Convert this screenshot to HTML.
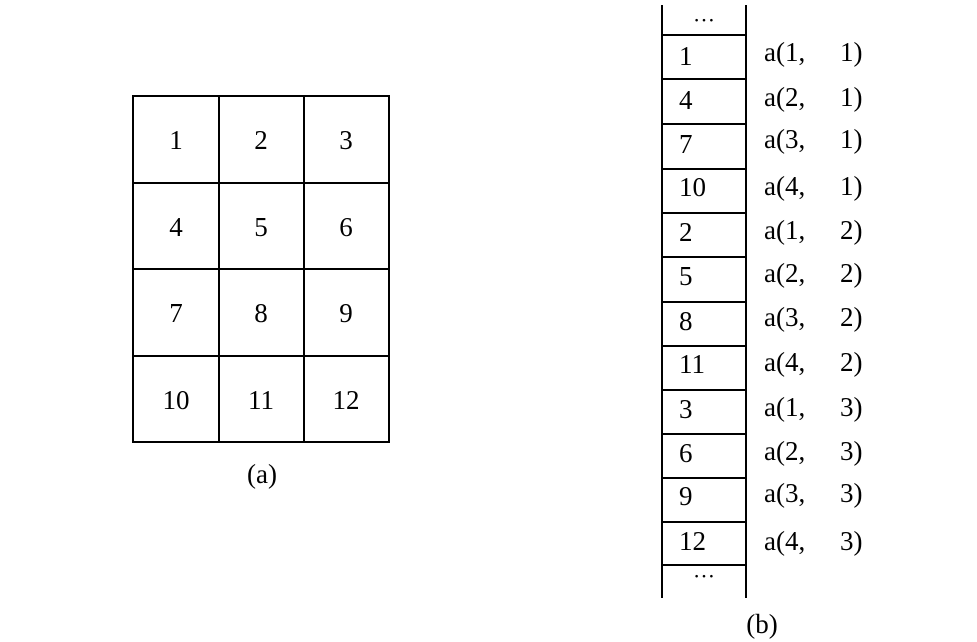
<!DOCTYPE html>
<html><head><style>body{margin:0;background:#fff}svg{display:block}text{font-family:"Liberation Serif","Noto Serif CJK SC",serif;font-size:27px;fill:#000}</style></head>
<body>
<svg width="977" height="642" viewBox="0 0 977 642">
<g stroke="#000" stroke-width="2" fill="none">
<rect x="133" y="96" width="256" height="346"/>
<line x1="219" y1="96" x2="219" y2="442"/><line x1="304" y1="96" x2="304" y2="442"/>
<line x1="133" y1="183" x2="389" y2="183"/><line x1="133" y1="269" x2="389" y2="269"/><line x1="133" y1="356" x2="389" y2="356"/>
<line x1="662" y1="5" x2="662" y2="598"/><line x1="746" y1="5" x2="746" y2="598"/>
<line x1="662" y1="35" x2="746" y2="35"/><line x1="662" y1="79" x2="746" y2="79"/><line x1="662" y1="124" x2="746" y2="124"/><line x1="662" y1="169" x2="746" y2="169"/><line x1="662" y1="213" x2="746" y2="213"/><line x1="662" y1="257" x2="746" y2="257"/><line x1="662" y1="302" x2="746" y2="302"/><line x1="662" y1="346" x2="746" y2="346"/><line x1="662" y1="390" x2="746" y2="390"/><line x1="662" y1="434" x2="746" y2="434"/><line x1="662" y1="478" x2="746" y2="478"/><line x1="662" y1="522" x2="746" y2="522"/><line x1="662" y1="565" x2="746" y2="565"/>
</g>
<g text-anchor="middle" dominant-baseline="central">
<text x="176" y="140">1</text><text x="261" y="140">2</text><text x="346" y="140">3</text>
<text x="176" y="227">4</text><text x="261" y="227">5</text><text x="346" y="227">6</text>
<text x="176" y="313">7</text><text x="261" y="313">8</text><text x="346" y="313">9</text>
<text x="176" y="400">10</text><text x="261" y="400">11</text><text x="346" y="400">12</text>
<text x="262" y="474">(a)</text><text x="762" y="624">(b)</text>
<text x="704" y="14" style="font-size:22px">…</text><text x="704" y="570" style="font-size:22px">…</text>
</g>
<g dominant-baseline="central">
<text x="679" y="56">1</text><text x="679" y="100">4</text><text x="679" y="144">7</text><text x="679" y="187">10</text>
<text x="679" y="232">2</text><text x="679" y="276">5</text><text x="679" y="321">8</text><text x="679" y="364">11</text>
<text x="679" y="409">3</text><text x="679" y="453">6</text><text x="679" y="496">9</text><text x="679" y="541">12</text>
</g>
<g dominant-baseline="central">
<text x="764" y="52">a(1,<tspan x="840">1)</tspan></text>
<text x="764" y="97">a(2,<tspan x="840">1)</tspan></text>
<text x="764" y="139">a(3,<tspan x="840">1)</tspan></text>
<text x="764" y="186">a(4,<tspan x="840">1)</tspan></text>
<text x="764" y="230">a(1,<tspan x="840">2)</tspan></text>
<text x="764" y="273">a(2,<tspan x="840">2)</tspan></text>
<text x="764" y="317">a(3,<tspan x="840">2)</tspan></text>
<text x="764" y="362">a(4,<tspan x="840">2)</tspan></text>
<text x="764" y="407">a(1,<tspan x="840">3)</tspan></text>
<text x="764" y="451">a(2,<tspan x="840">3)</tspan></text>
<text x="764" y="493">a(3,<tspan x="840">3)</tspan></text>
<text x="764" y="541">a(4,<tspan x="840">3)</tspan></text>
</g>
</svg>
</body></html>
